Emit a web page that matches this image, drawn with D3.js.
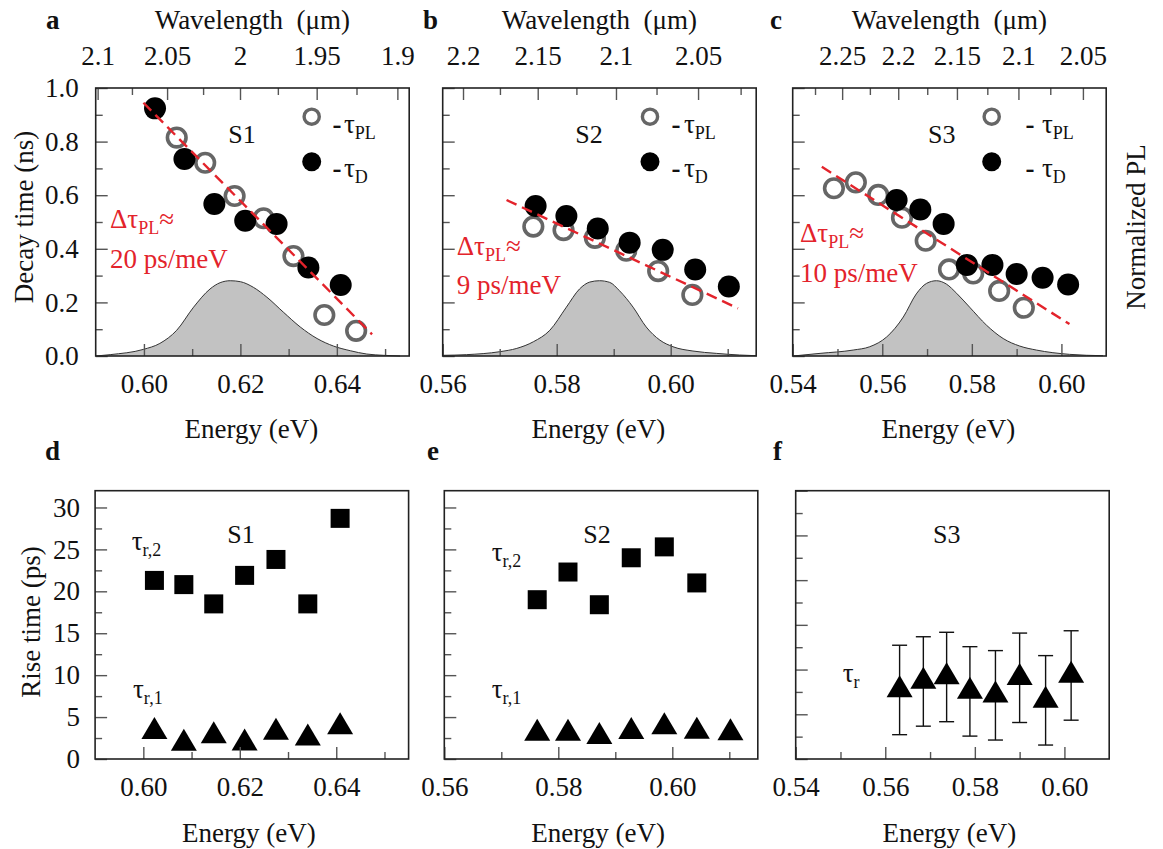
<!DOCTYPE html>
<html>
<head><meta charset="utf-8"><script src="https://cdn.jsdelivr.net/npm/d3@7"></script></head>
<body style="margin:0">
<svg id="fig" width="1163" height="849"></svg>
<script>
// ---- S1 ----
var s1Energy   = [0.6023, 0.6084, 0.6146, 0.6210, 0.6275, 0.6341, 0.6408];
var s1TauD     = [0.924, 0.735, 0.567, 0.505, 0.493, 0.330, 0.265];
var s1PLEnergy = [0.6068, 0.6127, 0.6188, 0.6248, 0.6310, 0.6374, 0.6440];
var s1TauPL    = [0.815, 0.721, 0.597, 0.514, 0.373, 0.153, 0.094];
var s1FitE     = [0.5999, 0.6473];
var s1FitTau   = [0.945, 0.081];
var s1SpecE    = [0.5901, 0.5930, 0.5999, 0.6033, 0.6068, 0.6103, 0.6137, 0.6158, 0.6179, 0.6200,
                  0.6227, 0.6255, 0.6289, 0.6324, 0.6359, 0.6393, 0.6428, 0.6462, 0.6497, 0.6531];
var s1SpecPL   = [0.000, 0.018, 0.088, 0.167, 0.342, 0.649, 0.890, 0.974, 1.000, 0.987,
                  0.912, 0.781, 0.583, 0.386, 0.232, 0.132, 0.070, 0.026, 0.009, 0.000];
var s1Rise2    = [21.3, 20.8, 18.5, 21.9, 23.8, 18.5, 28.7];
var s1Rise1    = [3.26, 1.84, 2.75, 1.88, 3.18, 2.47, 3.83];

// ---- S2 ----
var s2Energy   = [0.5763, 0.5817, 0.5872, 0.5928, 0.5986, 0.6043, 0.6102];
var s2TauD     = [0.560, 0.522, 0.476, 0.423, 0.396, 0.323, 0.259];
var s2PLEnergy = [0.5759, 0.5812, 0.5867, 0.5922, 0.5978, 0.6038];
var s2TauPL    = [0.483, 0.470, 0.441, 0.393, 0.317, 0.228];
var s2FitE     = [0.5712, 0.6118];
var s2FitTau   = [0.582, 0.178];
var s2SpecE    = [0.5601, 0.5642, 0.5700, 0.5730, 0.5759, 0.5788, 0.5817, 0.5840, 0.5858, 0.5875,
                  0.5893, 0.5910, 0.5934, 0.5957, 0.5981, 0.6004, 0.6039, 0.6080, 0.6121, 0.6150];
var s2SpecPL   = [0.009, 0.018, 0.057, 0.101, 0.189, 0.342, 0.649, 0.890, 0.982, 1.000,
                  0.978, 0.868, 0.649, 0.386, 0.211, 0.123, 0.066, 0.035, 0.013, 0.004];
var s2Rise2    = [19.0, 22.3, 18.4, 24.0, 25.3, 21.0];
var s2Rise1    = [3.04, 3.04, 2.67, 3.26, 3.83, 3.29, 3.10];

// ---- S3 ----
var s3Energy   = [0.5632, 0.5685, 0.5737, 0.5789, 0.5846, 0.5900, 0.5958, 0.6015];
var s3TauD     = [0.582, 0.547, 0.493, 0.340, 0.340, 0.306, 0.292, 0.267];
var s3PLEnergy = [0.5492, 0.5541, 0.5591, 0.5644, 0.5697, 0.5749, 0.5803, 0.5861, 0.5916];
var s3TauPL    = [0.626, 0.648, 0.601, 0.516, 0.430, 0.323, 0.308, 0.243, 0.180];
var s3FitE     = [0.5465, 0.6018];
var s3FitTau   = [0.706, 0.119];
var s3SpecE    = [0.5401, 0.5461, 0.5535, 0.5572, 0.5610, 0.5647, 0.5676, 0.5699, 0.5721, 0.5743,
                  0.5766, 0.5795, 0.5833, 0.5870, 0.5907, 0.5944, 0.5981, 0.6018, 0.6093];
var s3SpecPL   = [0.000, 0.035, 0.079, 0.123, 0.254, 0.518, 0.825, 0.965, 1.000, 0.956,
                  0.833, 0.649, 0.408, 0.232, 0.132, 0.079, 0.044, 0.022, 0.004];
var s3Rise     = [7.72, 8.67, 9.17, 7.56, 7.12, 9.08, 6.56, 9.34];
var s3RiseErr  = [5.0, 5.0, 5.0, 5.0, 5.0, 5.0, 5.0, 5.0];

// ---- tick labels ----
var decayMajor = [0, 0.2, 0.4, 0.6, 0.8, 1.0];
var decayMinor = [0.1, 0.3, 0.5, 0.7, 0.9];
var riseMajor  = [0, 5, 10, 15, 20, 25, 30];
var riseMinor  = [2.5, 7.5, 12.5, 17.5, 22.5, 27.5];
var wlMajorA = [2.1, 2.05, 2.0, 1.95, 1.9],      wlMinorA = [2.075, 2.025, 1.975, 1.925];
var wlMajorB = [2.2, 2.15, 2.1, 2.05],           wlMinorB = [2.175, 2.125, 2.075, 2.025];
var wlMajorC = [2.25, 2.2, 2.15, 2.1, 2.05],     wlMinorC = [2.275, 2.225, 2.175, 2.125, 2.075];

var hc = 1.23984; // eV*um
var red = "#e3232b";
var FS = 27;

var svg = d3.select("#fig");
svg.append("rect").attr("width", 1163).attr("height", 849).attr("fill", "#fff");

function axis(g, maker, scale, major, minor, fmt, pad, tr) {
  g.append("g").attr("transform", tr)
    .call(maker(scale).tickValues(minor).tickSize(-7).tickFormat(""));
  var m = g.append("g").attr("transform", tr)
    .call(maker(scale).tickValues(major).tickSize(-12).tickPadding(pad).tickFormat(fmt || ""));
  g.selectAll(".domain").remove();
  g.selectAll(".tick line").attr("stroke", "#555").attr("stroke-width", 1.4);
  m.selectAll(".tick text").each(function () {
    var t = d3.select(this), s = t.text(), tr2 = this.parentNode.getAttribute("transform");
    var ta = m.attr("text-anchor"), x = t.attr("x") || 0, yy = t.attr("y") || 0, dy = t.attr("dy");
    t.remove();
    if (!s) return;
    svg.append("text").attr("transform", tr + " " + tr2)
      .attr("x", x).attr("y", yy).attr("dy", dy).attr("text-anchor", ta)
      .attr("font-size", FS).attr("fill", "#111")
      .style("font-family", "'Liberation Serif'").text(s);
  });
}

function txt(x, y, s, opt) {
  opt = opt || {};
  var t = svg.append("text").attr("x", x).attr("y", y)
    .attr("font-size", opt.size || FS)
    .style("font-family", "'Liberation Serif'")
    .attr("fill", opt.fill || "#111")
    .attr("text-anchor", opt.anchor || "start")
    .text(s);
  if (opt.bold) t.attr("font-weight", "bold");
  return t;
}

function subText(x, y, main, sub, opt) {
  opt = opt || {};
  var t = txt(x, y, main, opt);
  t.append("tspan").attr("dy", 6).attr("font-size", 18).text(sub);
  if (opt.after) t.append("tspan").attr("dy", -6).attr("font-size", FS).text(opt.after);
  return t;
}

function frame(x0, y0, x1, y1) {
  svg.append("rect").attr("x", x0).attr("y", y0).attr("width", x1 - x0).attr("height", y1 - y0)
    .attr("fill", "none").attr("stroke", "#222").attr("stroke-width", 1.6);
}

// ================= top panels =================
var topY0 = 88, topY1 = 356, PW = 313.5;
var topPanels = [
  { x0: 95.7, dom: [0.59, 0.655], eMaj: [0.60, 0.62, 0.64], eMin: [0.61, 0.63, 0.65],
    wMaj: wlMajorA, wMin: wlMinorA, E: s1Energy, D: s1TauD, EPL: s1PLEnergy, PL: s1TauPL,
    fitE: s1FitE, fitT: s1FitTau, specE: s1SpecE, spec: s1SpecPL, left: true,
    name: "S1", nx: 242, letter: "a", lx: 46,
    legC: 311.7, legD: 337, legT: 344,
    annX: 110, annY1: 227.7, annY2: 268.3, rate: "20 ps/meV" },
  { x0: 442.7, dom: [0.56, 0.615], eMaj: [0.56, 0.58, 0.60], eMin: [0.57, 0.59, 0.61],
    wMaj: wlMajorB, wMin: wlMinorB, E: s2Energy, D: s2TauD, EPL: s2PLEnergy, PL: s2TauPL,
    fitE: s2FitE, fitT: s2FitTau, specE: s2SpecE, spec: s2SpecPL, left: false,
    name: "S2", nx: 589, letter: "b", lx: 423,
    legC: 650, legD: 676, legT: 684,
    annX: 456.7, annY1: 255, annY2: 294, rate: "9 ps/meV" },
  { x0: 792.7, dom: [0.54, 0.61], eMaj: [0.54, 0.56, 0.58, 0.60], eMin: [0.55, 0.57, 0.59],
    wMaj: wlMajorC, wMin: wlMinorC, E: s3Energy, D: s3TauD, EPL: s3PLEnergy, PL: s3TauPL,
    fitE: s3FitE, fitT: s3FitTau, specE: s3SpecE, spec: s3SpecPL, left: false,
    name: "S3", nx: 941.7, letter: "c", lx: 770,
    legC: 991.7, legD: 1030, legT: 1042,
    annX: 800, annY1: 241.7, annY2: 281.7, rate: "10 ps/meV" }
];

var y = d3.scaleLinear().domain([0, 1.0]).range([topY1, topY0]);
var yPL = d3.scaleLinear().domain([0, 3.56]).range([topY1, topY0]);

topPanels.forEach(function (p) {
  var x = d3.scaleLinear().domain(p.dom).range([p.x0, p.x0 + PW]);
  var g = svg.append("g");

  // PL spectrum
  var spec = p.specE.map(function (e, i) { return [e, p.spec[i]]; });
  g.append("path").datum(spec)
    .attr("d", d3.area().x(function (d) { return x(d[0]); }).y0(topY1)
      .y1(function (d) { return yPL(d[1]); }).curve(d3.curveMonotoneX))
    .attr("fill", "#c2c2c2");
  g.append("path").datum(spec)
    .attr("d", d3.line().x(function (d) { return x(d[0]); })
      .y(function (d) { return yPL(d[1]); }).curve(d3.curveMonotoneX))
    .attr("fill", "none").attr("stroke", "#333").attr("stroke-width", 1);

  // axes
  var ax = svg.append("g");
  axis(ax, d3.axisBottom, x, p.eMaj, p.eMin, d3.format(".2f"), 18, "translate(0," + topY1 + ")");
  var wlFmt = function (e) { return String(+(hc / e).toFixed(3)); };
  axis(ax, d3.axisTop, x, p.wMaj.map(function (l) { return hc / l; }),
       p.wMin.map(function (l) { return hc / l; }), wlFmt, 23, "translate(0," + topY0 + ")");
  axis(ax, d3.axisLeft, y, decayMajor, decayMinor, p.left ? d3.format(".1f") : null, 17,
       "translate(" + p.x0 + ",0)");

  // tau_PL open circles
  g.selectAll(".pl").data(p.EPL).enter().append("circle")
    .attr("cx", function (d) { return x(d); })
    .attr("cy", function (d, i) { return y(p.PL[i]); })
    .attr("r", 9.3).attr("fill", "none").attr("stroke", "#666").attr("stroke-width", 3.6);
  // tau_D filled circles
  g.selectAll(".dd").data(p.E).enter().append("circle")
    .attr("cx", function (d) { return x(d); })
    .attr("cy", function (d, i) { return y(p.D[i]); })
    .attr("r", 11).attr("fill", "#000");
  // linear fit
  g.append("line")
    .attr("x1", x(p.fitE[0])).attr("y1", y(p.fitT[0]))
    .attr("x2", x(p.fitE[1])).attr("y2", y(p.fitT[1]))
    .attr("stroke", red).attr("stroke-width", 2.4).attr("stroke-dasharray", "11,6");

  frame(p.x0, topY0, p.x0 + PW, topY1);

  // legend
  svg.append("circle").attr("cx", p.legC).attr("cy", 116.7).attr("r", 7.6)
    .attr("fill", "none").attr("stroke", "#666").attr("stroke-width", 3.4);
  svg.append("circle").attr("cx", p.legC).attr("cy", 161.7).attr("r", 9.5).attr("fill", "#000");
  txt(p.legD, 132.5, "-", { anchor: "middle", bold: true });
  txt(p.legD, 177, "-", { anchor: "middle", bold: true });
  subText(p.legT, 132.5, "τ", "PL");
  subText(p.legT, 177, "τ", "D");

  txt(p.nx, 143.3, p.name, { anchor: "middle", size: 26 });
  subText(p.annX, p.annY1, "Δτ", "PL", { fill: red, after: "≈" });
  txt(p.annX, p.annY2, p.rate, { fill: red });

  txt(p.lx, 28.5, p.letter, { bold: true });
  txt(p.x0 + PW / 2, 29, "Wavelength\u00a0\u00a0(μm)", { anchor: "middle" });
  txt(p.x0 + PW / 2 - 1, 438, "Energy (eV)", { anchor: "middle" });
});

txt(0, 0, "Decay time (ns)", { anchor: "middle" }).attr("transform", "translate(33,217) rotate(-90)");
txt(0, 0, "Normalized PL", { anchor: "middle" }).attr("transform", "translate(1145,227) rotate(-90)");

// ================= bottom panels =================
var botY0 = 490.7, botY1 = 759;
var botPanels = [
  { x0: 95.1, dom: [0.59, 0.655], ymax: 32, eMaj: [0.60, 0.62, 0.64], eMin: [0.61, 0.63, 0.65],
    E: s1Energy, sq: s1Rise2, tri: s1Rise1, left: true, name: "S1", nx: 241, letter: "d", lx: 45,
    t2: [131.7, 550], t1: [133, 698.3] },
  { x0: 444.3, dom: [0.56, 0.615], ymax: 32, eMaj: [0.56, 0.58, 0.60], eMin: [0.57, 0.59, 0.61],
    E: s2Energy, sq: s2Rise2, tri: s2Rise1, left: false, name: "S2", nx: 597, letter: "e", lx: 427,
    t2: [491.7, 560.7], t1: [491.7, 698.3] },
  { x0: 795.7, dom: [0.54, 0.61], ymax: 30, eMaj: [0.54, 0.56, 0.58, 0.60], eMin: [0.55, 0.57, 0.59],
    E: s3Energy, sq: null, tri: s3Rise, err: s3RiseErr, left: false, name: "S3", nx: 946.7, letter: "f", lx: 773,
    t0: [842.7, 681.7] }
];

var triPath = "M0,-14.7L13,7.3L-13,7.3Z";

botPanels.forEach(function (p) {
  var x = d3.scaleLinear().domain(p.dom).range([p.x0, p.x0 + PW]);
  var yr = d3.scaleLinear().domain([0, p.ymax]).range([botY1, botY0]);
  var g = svg.append("g");
  var ax = svg.append("g");
  axis(ax, d3.axisBottom, x, p.eMaj, p.eMin, d3.format(".2f"), 18, "translate(0," + botY1 + ")");
  axis(ax, d3.axisLeft, yr, riseMajor, riseMinor, p.left ? d3.format("d") : null, 15,
       "translate(" + p.x0 + ",0)");

  if (p.err) {
    var eb = g.selectAll(".eb").data(p.E).enter().append("g");
    eb.append("line")
      .attr("x1", function (d) { return x(d); }).attr("x2", function (d) { return x(d); })
      .attr("y1", function (d, i) { return yr(p.tri[i] - p.err[i]); })
      .attr("y2", function (d, i) { return yr(p.tri[i] + p.err[i]); });
    [-1, 1].forEach(function (s) {
      eb.append("line")
        .attr("x1", function (d) { return x(d) - 7.5; }).attr("x2", function (d) { return x(d) + 7.5; })
        .attr("y1", function (d, i) { return yr(p.tri[i] + s * p.err[i]); })
        .attr("y2", function (d, i) { return yr(p.tri[i] + s * p.err[i]); });
    });
    eb.selectAll("line").attr("stroke", "#111").attr("stroke-width", 1.4);
  }
  if (p.sq) {
    g.selectAll(".sq").data(p.sq).enter().append("rect")
      .attr("x", function (d, i) { return x(p.E[i]) - 9.5; })
      .attr("y", function (d) { return yr(d) - 9.5; })
      .attr("width", 19).attr("height", 19).attr("fill", "#000");
  }
  g.selectAll(".tri").data(p.tri).enter().append("path")
    .attr("d", triPath)
    .attr("transform", function (d, i) { return "translate(" + x(p.E[i]) + "," + yr(d) + ")"; })
    .attr("fill", "#000");

  frame(p.x0, botY0, p.x0 + PW, botY1);

  txt(p.nx, 543.3, p.name, { anchor: "middle", size: 26 });
  if (p.t2) subText(p.t2[0], p.t2[1], "τ", "r,2");
  if (p.t1) subText(p.t1[0], p.t1[1], "τ", "r,1");
  if (p.t0) subText(p.t0[0], p.t0[1], "τ", "r");
  txt(p.lx, 460, p.letter, { bold: true });
  txt(p.x0 + PW / 2 - 3, 842, "Energy (eV)", { anchor: "middle" });
});

txt(0, 0, "Rise time (ps)", { anchor: "middle" }).attr("transform", "translate(40,622) rotate(-90)");
</script>
</body>
</html>
